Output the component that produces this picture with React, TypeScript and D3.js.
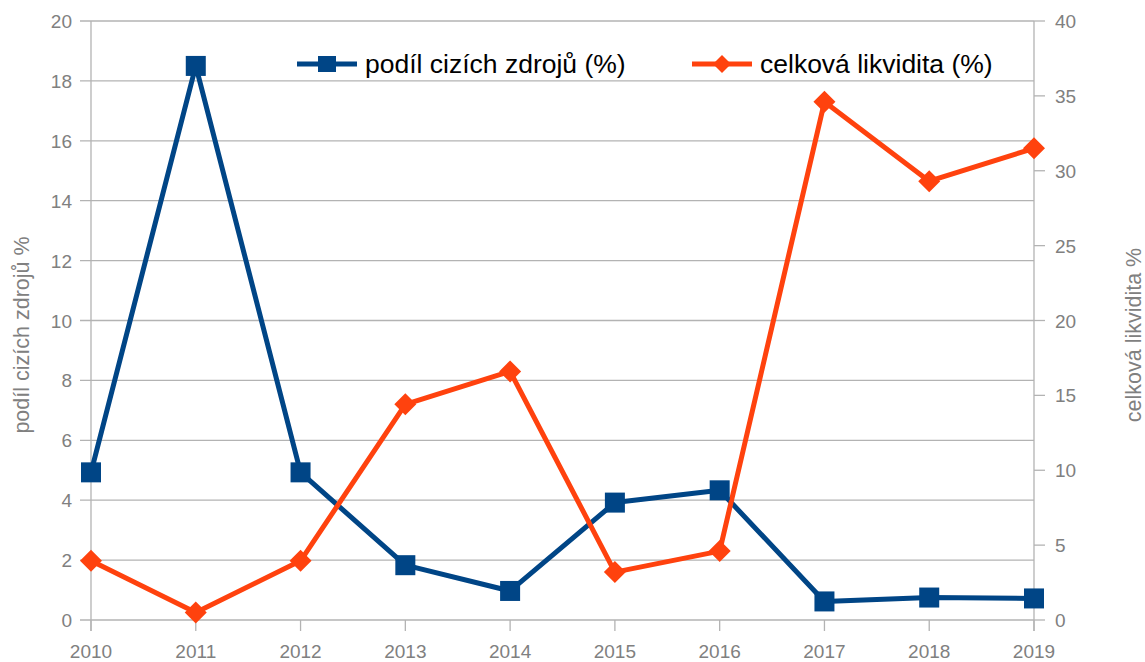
import React, { useEffect, useRef } from 'react';
import * as d3 from 'd3';

const years = [2010, 2011, 2012, 2013, 2014, 2015, 2016, 2017, 2018, 2019];
const podil = [4.93, 18.5, 4.93, 1.83, 0.97, 3.92, 4.33, 0.62, 0.75, 0.72];
const likvidita = [3.95, 0.5, 3.95, 14.4, 16.6, 3.2, 4.6, 34.6, 29.3, 31.5];
const leftTicks = [0, 2, 4, 6, 8, 10, 12, 14, 16, 18, 20];
const rightTicks = [0, 5, 10, 15, 20, 25, 30, 35, 40];
const seriesNames = ['podíl cizích zdrojů (%)', 'celková likvidita (%)'];

const BLUE = '#004586';
const ORANGE = '#ff420e';
const GRID = '#b3b3b3';
const LABEL = '#808080';
const FONT = '"Liberation Sans", Arial, sans-serif';

export default function App() {
  const ref = useRef<SVGSVGElement | null>(null);

  useEffect(() => {
    const svg = d3.select(ref.current);
    svg.selectAll('*').remove();

    const left = 91, right = 1034, top = 21, bottom = 620;
    const x = d3.scaleLinear().domain([2010, 2019]).range([left, right]);
    const yL = d3.scaleLinear().domain([0, 20]).range([bottom, top]);
    const yR = d3.scaleLinear().domain([0, 40]).range([bottom, top]);

    const g = svg.append('g');

    // horizontal grid
    g.selectAll('line.grid')
      .data(leftTicks)
      .enter()
      .append('line')
      .attr('x1', left - 11)
      .attr('x2', right)
      .attr('y1', d => yL(d))
      .attr('y2', d => yL(d))
      .attr('stroke', GRID)
      .attr('stroke-width', 1.3);

    // right axis ticks
    g.selectAll('line.rtick')
      .data(rightTicks)
      .enter()
      .append('line')
      .attr('x1', right)
      .attr('x2', right + 11)
      .attr('y1', d => yR(d))
      .attr('y2', d => yR(d))
      .attr('stroke', GRID)
      .attr('stroke-width', 1.3);

    // vertical axis lines
    [left, right].forEach(xx => {
      g.append('line')
        .attr('x1', xx).attr('x2', xx)
        .attr('y1', top).attr('y2', bottom + 11)
        .attr('stroke', GRID).attr('stroke-width', 1.3);
    });

    // x ticks
    g.selectAll('line.xtick')
      .data(years)
      .enter()
      .append('line')
      .attr('x1', d => x(d))
      .attr('x2', d => x(d))
      .attr('y1', bottom)
      .attr('y2', bottom + 11)
      .attr('stroke', GRID)
      .attr('stroke-width', 1.3);

    // tick labels
    g.selectAll('text.yl')
      .data(leftTicks)
      .enter()
      .append('text')
      .attr('x', left - 19)
      .attr('y', d => yL(d) + 7)
      .attr('text-anchor', 'end')
      .attr('font-family', FONT)
      .attr('font-size', 19)
      .attr('fill', LABEL)
      .text(d => d);

    g.selectAll('text.yr')
      .data(rightTicks)
      .enter()
      .append('text')
      .attr('x', right + 21)
      .attr('y', d => yR(d) + 7)
      .attr('text-anchor', 'start')
      .attr('font-family', FONT)
      .attr('font-size', 19)
      .attr('fill', LABEL)
      .text(d => d);

    g.selectAll('text.xl')
      .data(years)
      .enter()
      .append('text')
      .attr('x', d => x(d))
      .attr('y', 658)
      .attr('text-anchor', 'middle')
      .attr('font-family', FONT)
      .attr('font-size', 19)
      .attr('fill', LABEL)
      .text(d => d);

    // axis titles
    g.append('text')
      .attr('transform', `translate(29, 335) rotate(-90)`)
      .attr('text-anchor', 'middle')
      .attr('font-family', FONT)
      .attr('font-size', 21.5)
      .attr('fill', LABEL)
      .text('podíl cizích zdrojů %');
    g.append('text')
      .attr('transform', `translate(1141, 335) rotate(-90)`)
      .attr('text-anchor', 'middle')
      .attr('font-family', FONT)
      .attr('font-size', 21.5)
      .attr('fill', LABEL)
      .text('celková likvidita %');

    // lines
    const lineL = d3.line<number>().x((d, i) => x(years[i])).y(d => yL(d));
    const lineR = d3.line<number>().x((d, i) => x(years[i])).y(d => yR(d));

    g.append('path')
      .attr('d', lineL(podil))
      .attr('fill', 'none')
      .attr('stroke', BLUE)
      .attr('stroke-width', 5)
      .attr('stroke-linejoin', 'round');
    g.append('path')
      .attr('d', lineR(likvidita))
      .attr('fill', 'none')
      .attr('stroke', ORANGE)
      .attr('stroke-width', 5)
      .attr('stroke-linejoin', 'round');

    const sq = 20;
    g.selectAll('rect.m')
      .data(podil)
      .enter()
      .append('rect')
      .attr('x', (d, i) => x(years[i]) - sq / 2)
      .attr('y', d => yL(d) - sq / 2)
      .attr('width', sq)
      .attr('height', sq)
      .attr('fill', BLUE);

    const dm = 11;
    const diamond = (cx: number, cy: number) =>
      `M${cx},${cy - dm}L${cx + dm},${cy}L${cx},${cy + dm}L${cx - dm},${cy}Z`;
    g.selectAll('path.dm')
      .data(likvidita)
      .enter()
      .append('path')
      .attr('d', (d, i) => diamond(x(years[i]), yR(d)))
      .attr('fill', ORANGE);

    // legend
    const legend = [
      { x0: 297, color: BLUE, name: seriesNames[0], marker: 'square' },
      { x0: 692, color: ORANGE, name: seriesNames[1], marker: 'diamond' },
    ];
    const ly = 64;
    legend.forEach(l => {
      g.append('line')
        .attr('x1', l.x0).attr('x2', l.x0 + 60)
        .attr('y1', ly).attr('y2', ly)
        .attr('stroke', l.color).attr('stroke-width', 5);
      if (l.marker === 'square') {
        g.append('rect')
          .attr('x', l.x0 + 30 - 9).attr('y', ly - 8)
          .attr('width', 18).attr('height', 16)
          .attr('fill', l.color);
      } else {
        const c = l.x0 + 30, r = 9;
        g.append('path')
          .attr('d', `M${c},${ly - r}L${c + r},${ly}L${c},${ly + r}L${c - r},${ly}Z`)
          .attr('fill', l.color);
      }
      g.append('text')
        .attr('x', l.x0 + 68)
        .attr('y', ly + 9)
        .attr('font-family', FONT)
        .attr('font-size', 26.5)
        .attr('fill', '#000')
        .text(l.name);
    });
  }, []);

  return (
    <svg
      ref={ref}
      width={1145}
      height={662}
      style={{ position: 'absolute', left: 0, top: 0, background: '#fff' }}
    />
  );
}
